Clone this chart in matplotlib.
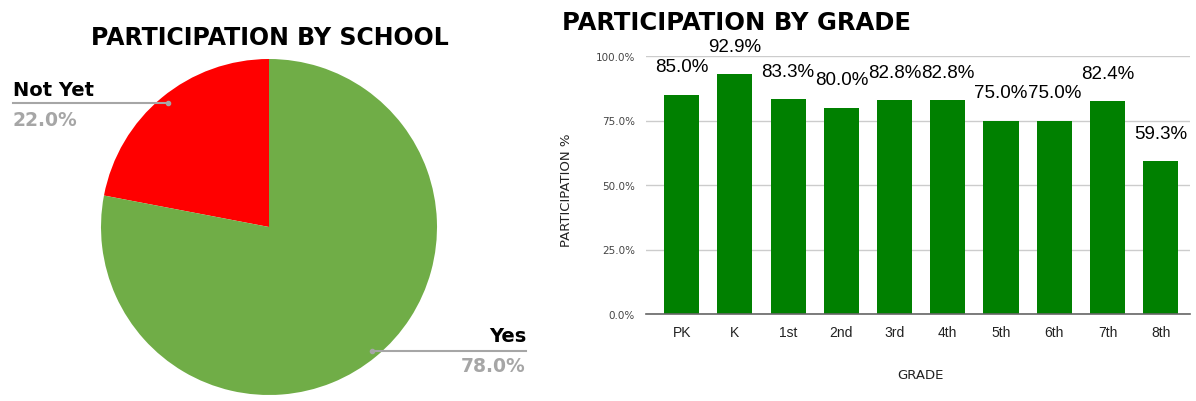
import matplotlib
matplotlib.use('Agg')
import numpy as np
import matplotlib.pyplot as plt
from matplotlib.ticker import FuncFormatter

# pie data
school_labels = ['Not Yet', 'Yes']
school_values = [22.0, 78.0]
school_colors = ['#ff0000', '#70ad47']

# bar data
grades = ['PK', 'K', '1st', '2nd', '3rd', '4th', '5th', '6th', '7th', '8th']
participation = [85.0, 92.9, 83.3, 80.0, 82.8, 82.8, 75.0, 75.0, 82.4, 59.3]
y_ticks = [0, 25, 50, 75, 100]

W, H = 1196, 402
fig = plt.figure(figsize=(W / 100, H / 100), dpi=100)


def px(x, y):
    # pixel coords (from top left) -> figure fraction
    return x / W, 1 - y / H


def box(left, top, right, bottom):
    return [left / W, 1 - bottom / H, (right - left) / W, (bottom - top) / H]


narrow = ['Liberation Sans Narrow', 'Liberation Sans', 'DejaVu Sans']
title_font = dict(fontweight='bold', color='black', family='DejaVu Sans')

# ---- pie ----
ax1 = fig.add_axes(box(101, 60, 437, 396))
ax1.pie(school_values, colors=school_colors, startangle=90, counterclock=True,
        radius=1.0, wedgeprops=dict(linewidth=0))
ax1.set_xlim(-1, 1)
ax1.set_ylim(-1, 1)
ax1.set_aspect('equal')
ax1.axis('off')

fig.text(*px(270, 38), 'PARTICIPATION BY SCHOOL', ha='center', va='center',
         fontsize=17, **title_font)

# Not Yet label
fig.text(*px(13, 90), school_labels[0], ha='left', va='center',
         fontsize=14, fontweight='bold', color='black')
fig.text(*px(13, 120), '%.1f%%' % school_values[0], ha='left', va='center',
         fontsize=13.5, fontweight='bold', color='#a6a6a6')
x0, y0 = px(13, 104)
x1, y1 = px(168, 104)
fig.add_artist(plt.Line2D([x0, x1], [y0, y1], color='#a6a6a6', lw=1.5))
fig.add_artist(plt.Line2D([x1], [y1], marker='o', ms=3, color='#a6a6a6'))

# Yes label
fig.text(*px(526, 337), school_labels[1], ha='right', va='center',
         fontsize=14, fontweight='bold', color='black')
fig.text(*px(526, 367), '%.1f%%' % school_values[1], ha='right', va='center',
         fontsize=13.5, fontweight='bold', color='#a6a6a6')
x0, y0 = px(372, 352)
x1, y1 = px(526, 352)
fig.add_artist(plt.Line2D([x0, x1], [y0, y1], color='#a6a6a6', lw=1.5))
fig.add_artist(plt.Line2D([x0], [y0], marker='o', ms=3, color='#a6a6a6'))

# ---- bars ----
ax2 = fig.add_axes(box(646, 57, 1190, 315))
x = np.arange(len(grades))
ax2.bar(x, participation, width=0.66, color='#008000', zorder=3)
ax2.set_xlim(-0.67, len(grades) - 0.45)
ax2.set_ylim(0, 100)
ax2.set_yticks(y_ticks)
ax2.yaxis.set_major_formatter(FuncFormatter(lambda v, p: '%.1f%%' % v))
ax2.set_xticks(x)
ax2.set_xticklabels(grades, fontsize=10, color='#222222', family=narrow)
ax2.tick_params(axis='y', labelsize=7.5, colors='#444444', length=0, pad=8)
ax2.tick_params(axis='x', length=0, pad=8)
ax2.grid(axis='y', color='#cccccc', lw=1, zorder=0)
for s in ['top', 'right', 'left']:
    ax2.spines[s].set_visible(False)
ax2.spines['bottom'].set_color('#666666')
ax2.spines['bottom'].set_linewidth(1.2)
ax2.spines['bottom'].set_zorder(4)

for xi, v in zip(x, participation):
    ax2.annotate('%.1f%%' % v, (xi, v), xytext=(0, 14), textcoords='offset points',
                 ha='center', va='bottom', fontsize=13.5, color='black', family=narrow)

fig.text(*px(567, 190), 'PARTICIPATION %', rotation=90, ha='center', va='center',
         fontsize=9.5, color='#222222')
fig.text(*px(920, 376), 'GRADE', ha='center', va='center',
         fontsize=9.5, color='#222222')

fig.text(*px(736, 23), 'PARTICIPATION BY GRADE', ha='center', va='center',
         fontsize=17.5, **title_font)

fig.savefig('out.png', dpi=100)
